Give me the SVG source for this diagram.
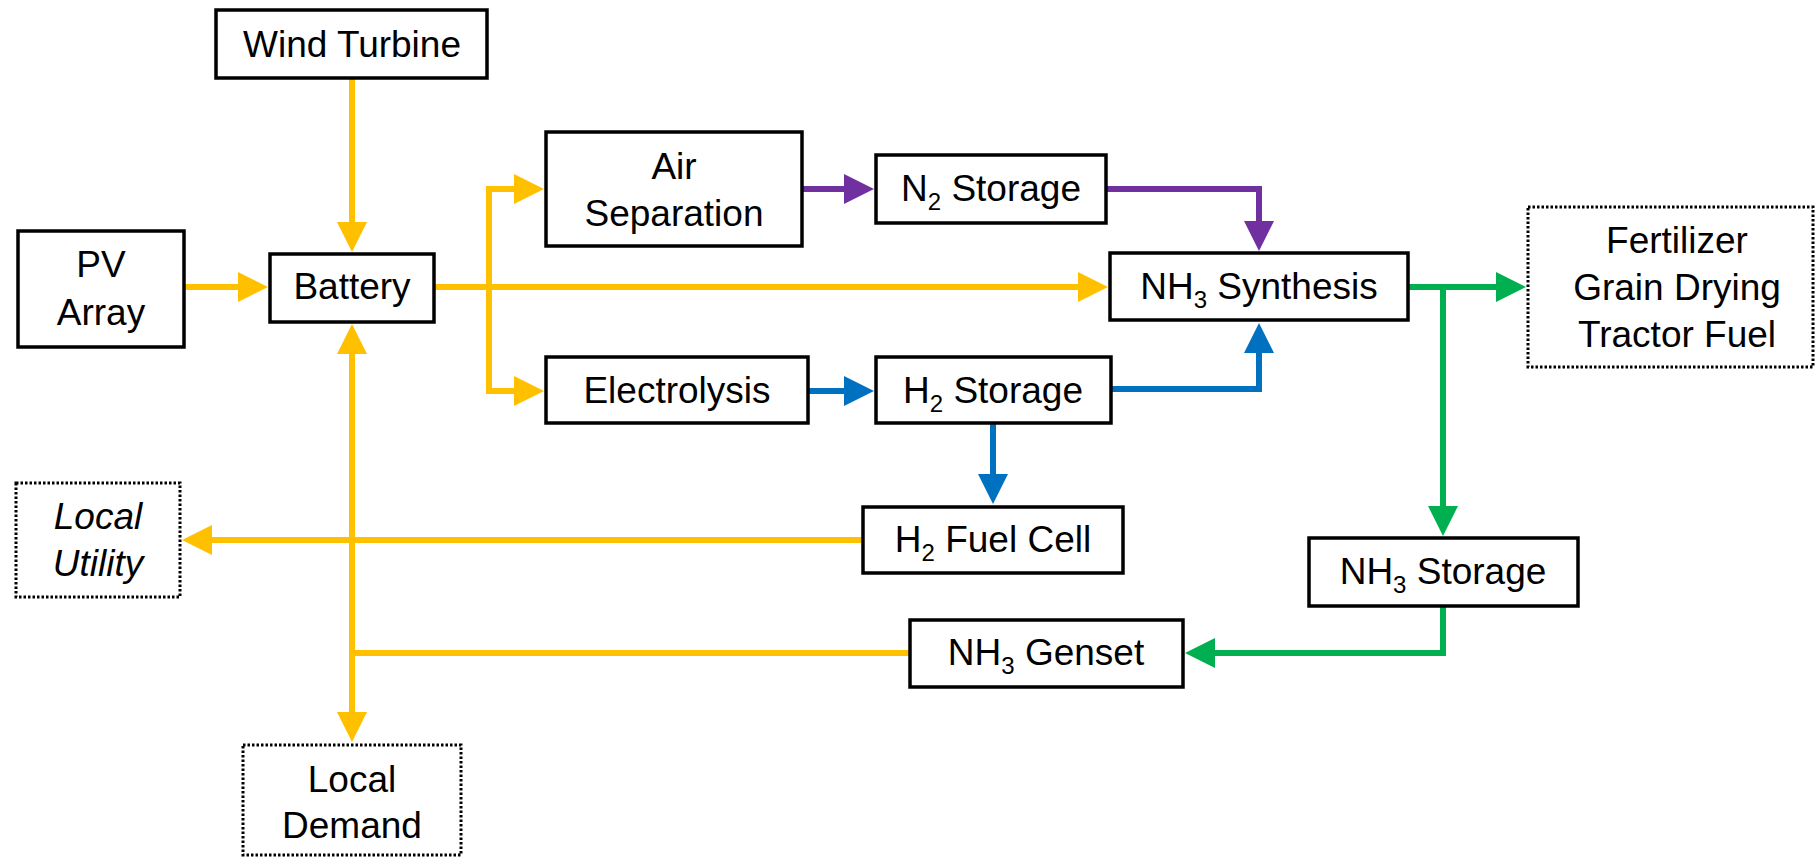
<svg xmlns="http://www.w3.org/2000/svg" width="1819" height="857" viewBox="0 0 1819 857">
<style>
.box{fill:#fff;stroke:#000;stroke-width:3.5}
.ext{fill:#fff;stroke:#000;stroke-width:3;stroke-dasharray:2.5 2}
text{font-family:"Liberation Sans",Arial,sans-serif;font-size:37px;fill:#000;text-anchor:middle}
.sub{font-size:24px}
.c{fill:none;stroke-width:6;stroke-linejoin:miter;stroke-linecap:butt}
.y{stroke:#FFC000}.p{stroke:#7030A0}.b{stroke:#0070C0}.g{stroke:#00B050}
</style>
<defs>
<marker id="ay" viewBox="0 -15 30 30" refX="1" refY="0" markerWidth="30" markerHeight="30" markerUnits="userSpaceOnUse" orient="auto"><path d="M0,-15 L30,0 L0,15 z" fill="#FFC000"/></marker>
<marker id="ap" viewBox="0 -15 30 30" refX="1" refY="0" markerWidth="30" markerHeight="30" markerUnits="userSpaceOnUse" orient="auto"><path d="M0,-15 L30,0 L0,15 z" fill="#7030A0"/></marker>
<marker id="ab" viewBox="0 -15 30 30" refX="1" refY="0" markerWidth="30" markerHeight="30" markerUnits="userSpaceOnUse" orient="auto"><path d="M0,-15 L30,0 L0,15 z" fill="#0070C0"/></marker>
<marker id="ag" viewBox="0 -15 30 30" refX="1" refY="0" markerWidth="30" markerHeight="30" markerUnits="userSpaceOnUse" orient="auto"><path d="M0,-15 L30,0 L0,15 z" fill="#00B050"/></marker>
</defs>
<g id="connectors">
<path class="c y" d="M352,78 V223" marker-end="url(#ay)"/>
<path class="c y" d="M184,287 H239" marker-end="url(#ay)"/>
<path class="c y" d="M434,287 H1079" marker-end="url(#ay)"/>
<path class="c y" d="M489,290 V189 H515" marker-end="url(#ay)"/>
<path class="c y" d="M489,284 V391 H515" marker-end="url(#ay)"/>
<path class="c y" d="M352,656 V353" marker-end="url(#ay)"/>
<path class="c y" d="M352,537 V713" marker-end="url(#ay)"/>
<path class="c y" d="M863,540 H211" marker-end="url(#ay)"/>
<path class="c y" d="M910,653 H349"/>
<path class="c p" d="M802,189 H845" marker-end="url(#ap)"/>
<path class="c p" d="M1106,189 H1259 V222" marker-end="url(#ap)"/>
<path class="c b" d="M808,391 H845" marker-end="url(#ab)"/>
<path class="c b" d="M1111,389 H1259 V352" marker-end="url(#ab)"/>
<path class="c b" d="M993,423 V475" marker-end="url(#ab)"/>
<path class="c g" d="M1408,287 H1497" marker-end="url(#ag)"/>
<path class="c g" d="M1443,284 V507" marker-end="url(#ag)"/>
<path class="c g" d="M1443,606 V653 H1214" marker-end="url(#ag)"/>
</g>
<g id="wind-turbine"><rect class="box" x="216" y="10" width="271" height="68"/><text x="352" y="57">Wind Turbine</text></g>
<g id="pv-array"><rect class="box" x="18" y="231" width="166" height="116"/><text x="101" y="277">PV</text><text x="101" y="325">Array</text></g>
<g id="battery"><rect class="box" x="270" y="254" width="164" height="68"/><text x="352" y="299">Battery</text></g>
<g id="air-separation"><rect class="box" x="546" y="132" width="256" height="114"/><text x="674" y="179">Air</text><text x="674" y="226">Separation</text></g>
<g id="n2-storage"><rect class="box" x="876" y="155" width="230" height="68"/><text x="991" y="201">N<tspan class="sub" dy="9">2</tspan><tspan dy="-9"> Storage</tspan></text></g>
<g id="electrolysis"><rect class="box" x="546" y="357" width="262" height="66"/><text x="677" y="403">Electrolysis</text></g>
<g id="h2-storage"><rect class="box" x="876" y="357" width="235" height="66"/><text x="993" y="403">H<tspan class="sub" dy="9">2</tspan><tspan dy="-9"> Storage</tspan></text></g>
<g id="nh3-synthesis"><rect class="box" x="1110" y="253" width="298" height="67"/><text x="1259" y="299">NH<tspan class="sub" dy="9">3</tspan><tspan dy="-9"> Synthesis</tspan></text></g>
<g id="end-uses"><rect class="ext" x="1528" y="207" width="285" height="160"/><text x="1677" y="253">Fertilizer</text><text x="1677" y="300">Grain Drying</text><text x="1677" y="347">Tractor Fuel</text></g>
<g id="h2-fuel-cell"><rect class="box" x="863" y="507" width="260" height="66"/><text x="993" y="552">H<tspan class="sub" dy="9">2</tspan><tspan dy="-9"> Fuel Cell</tspan></text></g>
<g id="nh3-storage"><rect class="box" x="1309" y="538" width="269" height="68"/><text x="1443" y="584">NH<tspan class="sub" dy="9">3</tspan><tspan dy="-9"> Storage</tspan></text></g>
<g id="nh3-genset"><rect class="box" x="910" y="620" width="273" height="67"/><text x="1046" y="665">NH<tspan class="sub" dy="9">3</tspan><tspan dy="-9"> Genset</tspan></text></g>
<g id="local-utility"><rect class="ext" x="16" y="483" width="164" height="114"/><text x="98" y="529" font-style="italic">Local</text><text x="98" y="576" font-style="italic">Utility</text></g>
<g id="local-demand"><rect class="ext" x="243" y="745" width="218" height="110"/><text x="352" y="792">Local</text><text x="352" y="838">Demand</text></g>
</svg>
